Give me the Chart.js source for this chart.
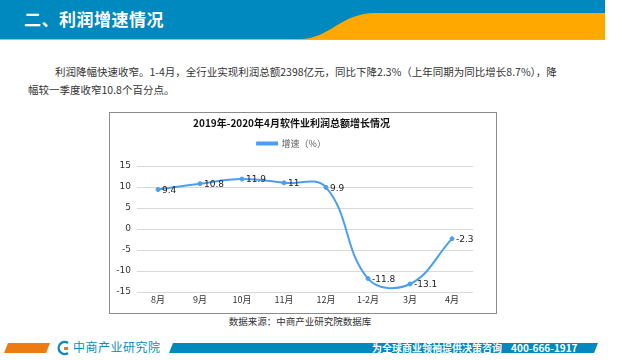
<!DOCTYPE html>
<html lang="zh">
<head>
<meta charset="utf-8">
<script src="https://cdn.jsdelivr.net/npm/chart.js@4"></script>
<style>
  html, body { margin: 0; padding: 0; }
  body { width: 640px; height: 360px; position: relative; overflow: hidden; background: #fff;
         font-family: "Noto Sans CJK SC", "Noto Sans", sans-serif; }
  .abs { position: absolute; }
  .header-title { left: 24px; top: 6px; color: #fff; font-size: 17px; font-weight: bold; letter-spacing: 0.5px; }
  .para { color: #333; font-size: 10.5px; line-height: 18px; }
  .chart-box { left: 109px; top: 112px; width: 386px; height: 200px; border: 1px solid #8c8c8c; }
  .source { left: 0; width: 600px; top: 314px; text-align: center; font-size: 9.5px; color: #333; }
  .logo-text { left: 73px; top: 339px; font-size: 12px; line-height: 16px; color: #0a8bc4; letter-spacing: 0.5px; }
  .slogan { left: 372px; top: 341px; font-size: 10px; line-height: 13px; color: #fff; font-weight: bold; white-space: pre; }
</style>
</head>
<body>
<script>
// 데이터
const categories = ['8月', '9月', '10月', '11月', '12月', '1-2月', '3月', '4月'];
const growthRate = [9.4, 10.8, 11.9, 11, 9.9, -11.8, -13.1, -2.3];
const yTicks = [-15, -10, -5, 0, 5, 10, 15];
const seriesName = '增速（%）';
const chartTitle = '2019年-2020年4月软件业利润总额增长情况';
</script>

<!-- 상단 헤더 -->
<svg class="abs" style="left:0;top:0" width="640" height="45">
  <rect x="0" y="0" width="605" height="39" fill="#0089be"/>
  <path d="M300 39 C 330 39, 340 13, 376 13 L 605 13 L 605 39 Z" fill="#ffa800"/>
  <rect x="0" y="39" width="605" height="1" fill="#7fc6e2"/>
</svg>
<div class="abs header-title">二、利润增速情况</div>

<div class="abs para" style="left:55px;top:63px;">利润降幅快速收窄。1-4月，全行业实现利润总额2398亿元，同比下降2.3%（上年同期为同比增长8.7%），降</div>
<div class="abs para" style="left:28px;top:81px;">幅较一季度收窄10.8个百分点。</div>

<div class="abs chart-box"></div>
<div class="abs" style="left:110px;top:113px;width:386px;height:200px;">
  <canvas id="growthChart"></canvas>
</div>

<div class="abs source">数据来源：中商产业研究院数据库</div>

<!-- 하단 푸터 -->
<svg class="abs" style="left:0;top:338px" width="640" height="22">
  <polygon points="8,5 50,5 46,15 4,15" fill="#ee7a12"/>
  <polygon points="173,5 598,5 594,15 169,15" fill="#0089be"/>
  <path d="M68 5 A 6 6 0 1 0 68 15" fill="none" stroke="#0a8bc4" stroke-width="2.4"/>
  <rect x="64" y="9" width="4" height="3" fill="#ee7a12"/>
</svg>
<div class="abs logo-text">中商产业研究院</div>
<div class="abs slogan">为全球商业领袖提供决策咨询    400-666-1917</div>

<script>
const LINE_COLOR = '#4a9ff0';

// 포인트 오른쪽에 값 라벨 표시
const valueLabels = {
    id: 'valueLabels',
    afterDatasetsDraw(chart) {
        const ctx = chart.ctx;
        const meta = chart.getDatasetMeta(0);
        ctx.save();
        ctx.font = '9px "DejaVu Sans", sans-serif';
        ctx.fillStyle = '#222';
        ctx.textAlign = 'left';
        ctx.textBaseline = 'middle';
        meta.data.forEach((pt, i) => {
            ctx.fillText(String(growthRate[i]), pt.x + 4, pt.y + 1);
        });
        ctx.restore();
    }
};

// 범례와 플롯 사이 간격
const legendGap = {
    id: 'legendGap',
    beforeInit(chart) {
        const fit = chart.legend.fit;
        chart.legend.fit = function () {
            fit.call(this);
            this.height += 8;
        };
    }
};

new Chart(document.getElementById('growthChart'), {
    type: 'line',
    data: {
        labels: categories,
        datasets: [{
            label: seriesName,
            data: growthRate,
            borderColor: LINE_COLOR,
            backgroundColor: LINE_COLOR,
            borderWidth: 2,
            pointRadius: 2,
            pointBorderWidth: 1,
            pointBackgroundColor: LINE_COLOR,
            pointBorderColor: LINE_COLOR,
            tension: 0.4,
            fill: false
        }]
    },
    options: {
        responsive: true,
        maintainAspectRatio: false,
        animation: false,
        layout: { padding: { left: 0, right: 23, top: 0, bottom: 0 } },
        plugins: {
            title: {
                display: true,
                text: chartTitle,
                color: '#111',
                font: { family: 'Noto Sans CJK SC', size: 10, weight: 'bold' },
                padding: { top: 4, bottom: 4 }
            },
            legend: {
                display: true,
                labels: {
                    color: '#595959',
                    font: { family: 'Noto Sans CJK SC', size: 9 },
                    boxWidth: 20,
                    boxHeight: 2,
                    padding: 6
                }
            },
            tooltip: { enabled: false }
        },
        scales: {
            x: {
                offset: true,
                grid: { display: false, drawTicks: false },
                border: { display: false },
                ticks: { color: '#333', font: { family: 'Noto Sans CJK SC', size: 9 }, padding: 2, maxRotation: 0 },
                afterFit(scale) { scale.height = 21; }
            },
            y: {
                min: yTicks[0],
                max: yTicks[yTicks.length - 1],
                afterBuildTicks(scale) { scale.ticks = yTicks.map(v => ({ value: v })); },
                grid: { color: '#d9d9d9', drawTicks: false },
                border: { display: false },
                ticks: { color: '#333', font: { family: 'DejaVu Sans', size: 9 }, padding: 6 },
                afterFit(scale) { scale.width = 27; }
            }
        }
    },
    plugins: [valueLabels, legendGap]
});
</script>
</body>
</html>
